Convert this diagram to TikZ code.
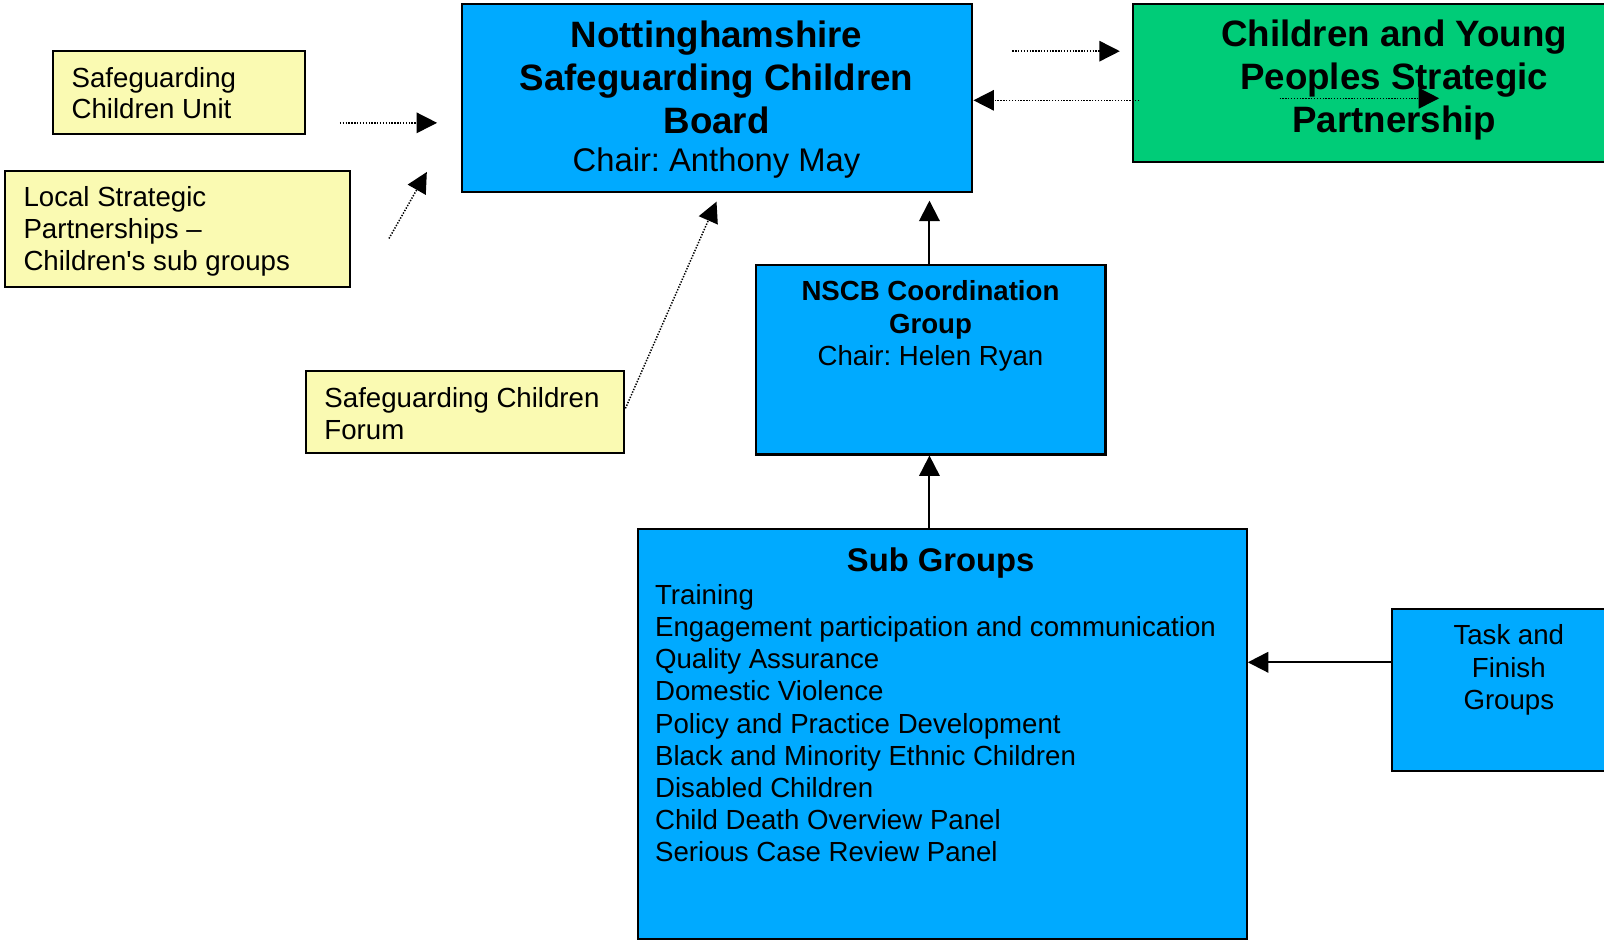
\documentclass[tikz,border=0pt]{standalone}
\usepackage{fontspec}
\setmainfont{Liberation Sans}
\usetikzlibrary{arrows.meta,fit}
\definecolor{nblue}{RGB}{0,170,255}
\definecolor{ngreen}{RGB}{0,204,120}
\definecolor{nyellow}{RGB}{250,250,178}
\frenchspacing
\begin{document}
\begin{tikzpicture}[x=0.75pt, y=-0.75pt,
  box/.style={draw=black, line width=1.5pt, inner sep=0pt},
  txt/.style={inner sep=0pt, outer sep=0pt},
  fbig/.style={font=\fontsize{26.9}{31.5}\selectfont\bfseries},
  fchair/.style={font=\fontsize{24}{28}\selectfont},
  fmid/.style={font=\fontsize{20.25}{23.25}\selectfont},
  fmidb/.style={font=\fontsize{20.25}{24}\selectfont\bfseries},
  ftitle/.style={font=\fontsize{24}{28}\selectfont\bfseries},
  flist/.style={font=\fontsize{20.25}{23.6}\selectfont},
  tip/.style={-{Triangle[length=15pt,width=15pt]}},
  dotarr/.style={tip, line width=1.1pt, dash pattern=on 1pt off 1.1pt},
  solarr/.style={tip, line width=1.5pt}]
\useasboundingbox (0,0) rectangle (1567,921);
% boxes
\node[box, fill=nblue, fit={(451,4) (950,188)}] (board) {};
\node[box, fill=ngreen, fit={(1107,4) (1575,158)}] (cyp) {};
\node[box, fill=nyellow, fit={(52,50) (298,131)}] (unit) {};
\node[box, fill=nyellow, fit={(5,167) (342,280)}] (lsp) {};
\node[box, fill=nyellow, fit={(299,362) (610,443)}] (forum) {};
\node[box, fill=nblue, fit={(739,259) (1080,444)}] (nscb) {};
\node[box, fill=nblue, fit={(623,517) (1218,917)}] (sub) {};
\node[box, fill=nblue, fit={(1360,595) (1575,753)}] (task) {};
% texts (anchor base = baseline of the last line)
\node[txt, fbig, anchor=base, align=center] (boardT) at (700,130) {Nottinghamshire\\Safeguarding Children\\Board};
\node[txt, fchair, anchor=base] (boardC) at (700,168) {Chair: Anthony May};
\node[txt, fbig, anchor=base, align=center] (cypT) at (1362,129) {Children and Young\\Peoples Strategic\\Partnership};
\node[txt, fmid, anchor=base west, align=left] (unitT) at (70,116) {Safeguarding\\Children Unit};
\node[txt, fmid, anchor=base west, align=left] (lspT) at (23,264) {Local Strategic\\Partnerships --\\Children\textquotesingle s sub groups};
\node[txt, fmid, anchor=base west, align=left] (forumT) at (317,429) {Safeguarding Children\\Forum};
\node[txt, fmidb, anchor=base, align=center] (nscbT) at (909,326) {NSCB Coordination\\Group};
\node[txt, fmid, anchor=base] (nscbC) at (909,357) {Chair: Helen Ryan};
\node[txt, ftitle, anchor=base] (subT) at (919,558) {Sub Groups};
\node[txt, flist, anchor=base west, align=left] (subL) at (640,842) {Training\\Engagement participation and communication\\Quality Assurance\\Domestic Violence\\Policy and Practice Development\\Black and Minority Ethnic Children\\Disabled Children\\Child Death Overview Panel\\Serious Case Review Panel};
\node[txt, anchor=base, align=center, font=\fontsize{20.25}{23.6}\selectfont] (taskT) at (1474,693) {Task and\\Finish\\Groups};
% free ends of connectors
\coordinate (u1) at (332,120);
\coordinate (u2) at (427,120);
\coordinate (l1) at (380,233);
\coordinate (l2) at (417,168);
\coordinate (f1) at (611,399);
\coordinate (f2) at (700,197);
\coordinate (g1) at (989,50);
\coordinate (g2) at (1094,50);
\coordinate (g3) at (1113,98);
\coordinate (g4) at (1250,96);
\coordinate (g5) at (1406,96);
\coordinate (n2) at (908,196);
\coordinate (tf) at (0,647);
% connectors
\draw[dotarr] (u1) -- (u2);
\draw[dotarr] (l1) -- (l2);
\draw[dotarr] (f1) -- (f2);
\draw[dotarr] (g1) -- (g2);
\draw[dotarr] (g3) -- (board.east |- g3);
\draw[dotarr] (g4) -- (g5);
\draw[solarr] (nscb.north -| n2) -- (n2);
\draw[solarr] (sub.north -| n2) -- (nscb.south -| n2);
\draw[solarr] (task.west |- tf) -- (sub.east |- tf);
\end{tikzpicture}
\end{document}
